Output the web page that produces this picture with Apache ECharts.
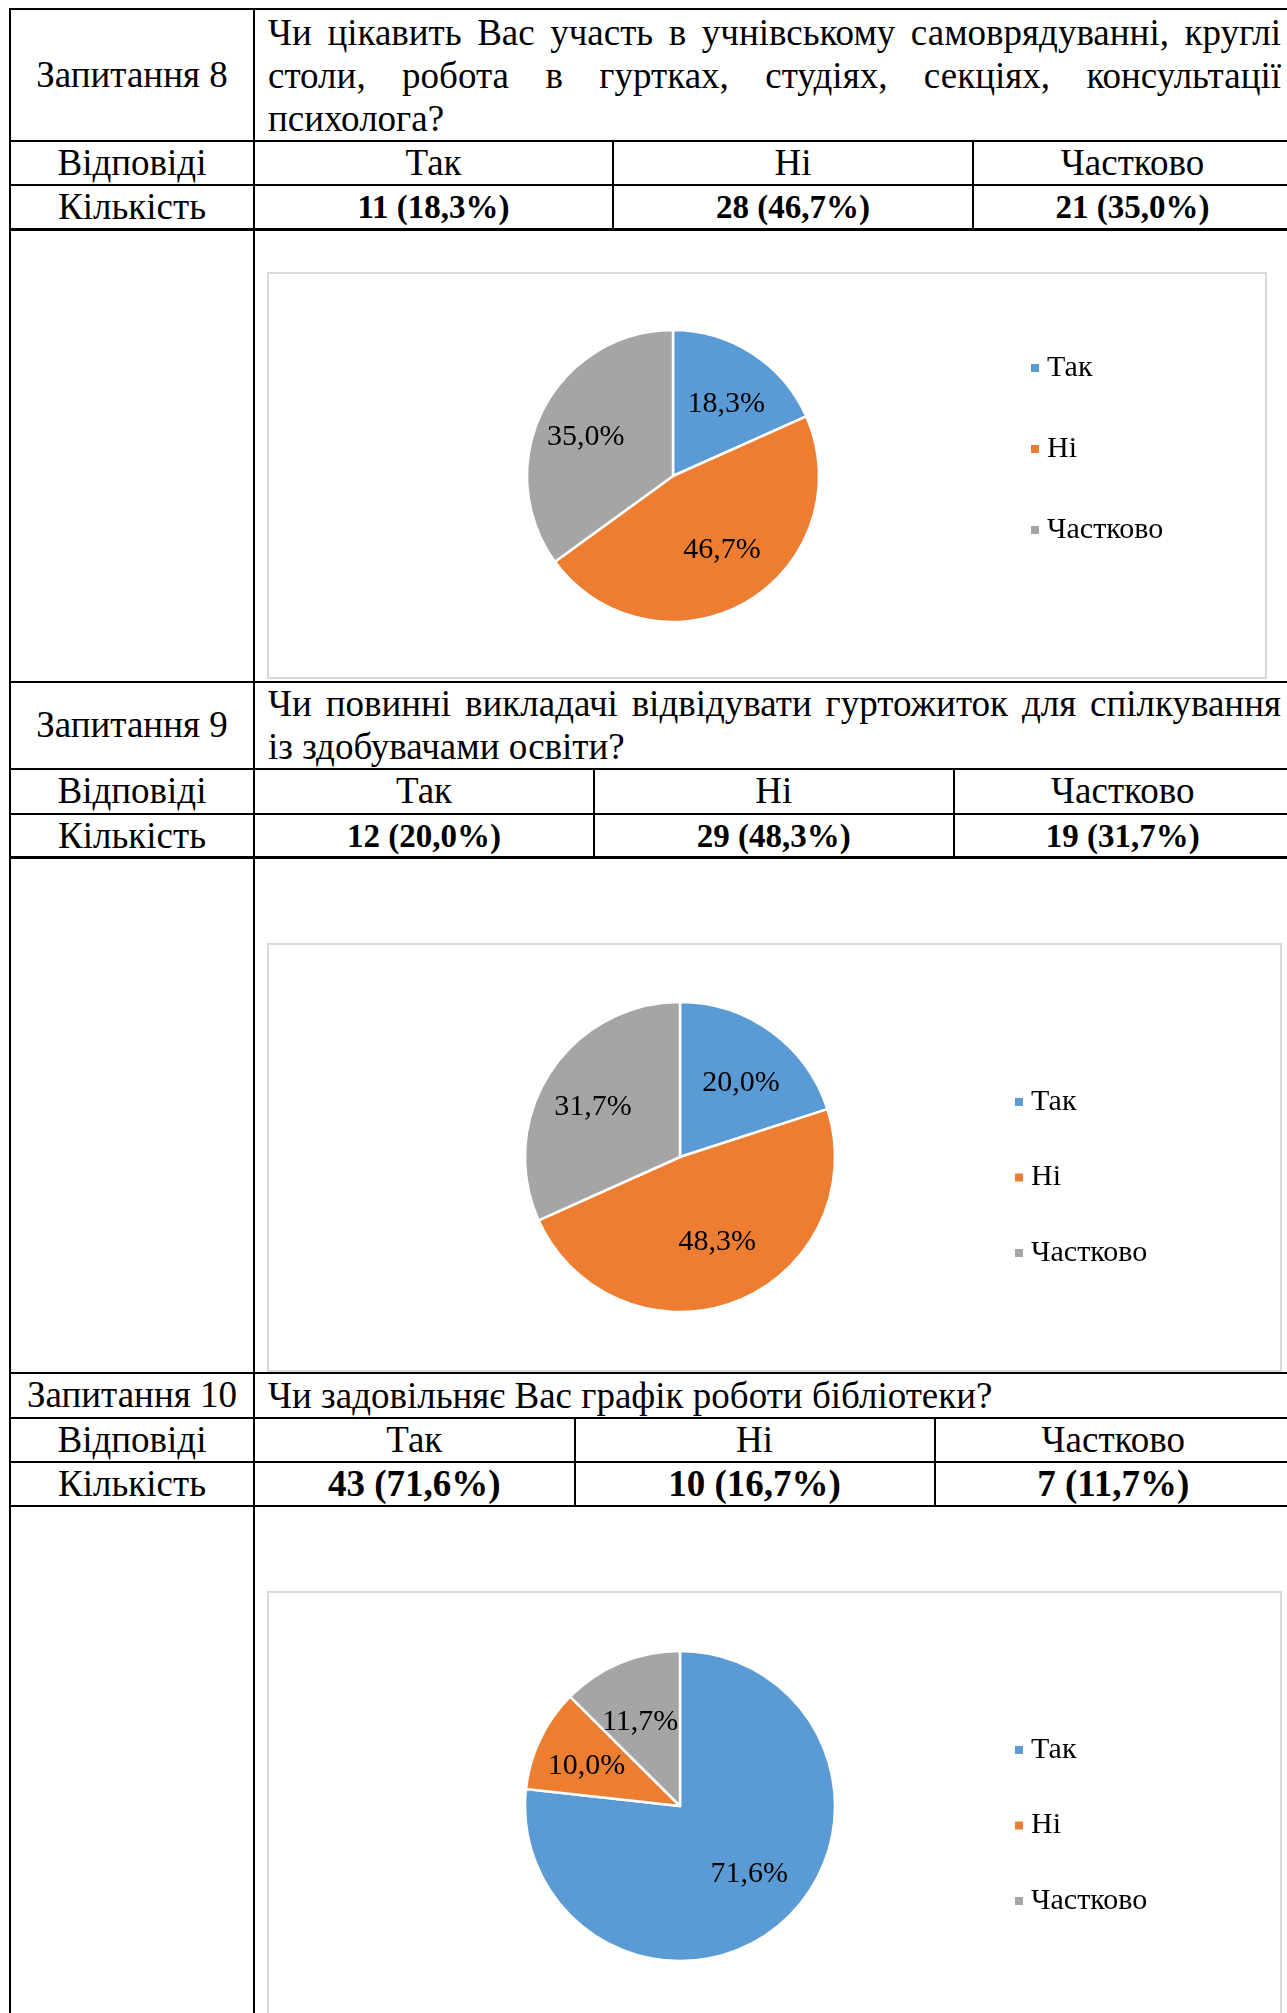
<!DOCTYPE html>
<html>
<head>
<meta charset="utf-8">
<script src="https://cdn.jsdelivr.net/npm/echarts@6/dist/echarts.min.js"></script>
<style>
  html, body { margin: 0; padding: 0; background: #fff; }
  body { width: 1287px; height: 2013px; position: relative; overflow: hidden;
         font-family: "Liberation Serif", "Times New Roman", serif; color: #000; }
  .hl, .vl { position: absolute; background: #000; }
  .cell { position: absolute; display: flex; align-items: center; justify-content: center;
          font-size: 37px; line-height: 42px; white-space: nowrap; }
  .q { position: absolute; font-size: 37px; line-height: 43px; display: flex; flex-direction: column; justify-content: center; }
  .q div { white-space: nowrap; }
  .q .just { text-align: justify; text-align-last: justify; }
  .chart { position: absolute; outline: 2px solid #d9d9d9; outline-offset: -1px; }
</style>
</head>
<body>
<script>
// дані
const categories = ['Так', 'Ні', 'Частково'];
const colors = ['#5B9BD5', '#ED7D31', '#A5A5A5'];

const q8Label = 'Запитання 8';
const q8Lines = ['Чи цікавить Вас участь в учнівському самоврядуванні, круглі',
                 'столи, робота в гуртках, студіях, секціях, консультації',
                 'психолога?'];
const q8Counts = ['11 (18,3%)', '28 (46,7%)', '21 (35,0%)'];
const q8Values = [18.3, 46.7, 35.0];

const q9Label = 'Запитання 9';
const q9Lines = ['Чи повинні викладачі відвідувати гуртожиток для спілкування',
                 'із здобувачами освіти?'];
const q9Counts = ['12 (20,0%)', '29 (48,3%)', '19 (31,7%)'];
const q9Values = [20.0, 48.3, 31.7];

const q10Label = 'Запитання 10';
const q10Lines = ['Чи задовільняє Вас графік роботи бібліотеки?'];
const q10Counts = ['43 (71,6%)', '10 (16,7%)', '7 (11,7%)'];
const q10Values = [71.6, 10.0, 11.7];

// розмітка таблиці
const FONT = '"Liberation Serif", "Times New Roman", serif';
const LEFT = 10, COL = 254, RIGHT = 1292, LW = 2;
const blocks = [
  { label: q8Label, lines: q8Lines, counts: q8Counts, values: q8Values,
    top: 9, qBottom: 141, ansBottom: 185, cntBottom: 229.5, end: 681.5,
    dividers: [613, 973], countSize: 33,
    box: { left: 268, top: 273, width: 998, height: 405 },
    pie: { cx: 405, cy: 203, r: 146 }, legend: { left: 756, top: 75, gap: 51 } },
  { label: q9Label, lines: q9Lines, counts: q9Counts, values: q9Values,
    top: 681.5, qBottom: 769, ansBottom: 813.5, cntBottom: 857.5, end: 1373,
    dividers: [594, 953.5], countSize: 33,
    box: { left: 268, top: 944, width: 1013, height: 427 },
    pie: { cx: 412, cy: 213, r: 155 }, legend: { left: 740, top: 138, gap: 45.5 } },
  { label: q10Label, lines: q10Lines, counts: q10Counts, values: q10Values,
    top: 1373, qBottom: 1417.5, ansBottom: 1462, cntBottom: 1506, end: 2100,
    dividers: [574.5, 934.5], countSize: 37,
    box: { left: 268, top: 1592, width: 1013, height: 427 },
    pie: { cx: 412, cy: 214, r: 155 }, legend: { left: 740, top: 138, gap: 45.5 } }
];

function el(cls, css, text) {
  const d = document.createElement('div');
  d.className = cls;
  Object.assign(d.style, css);
  if (text !== undefined) d.textContent = text;
  document.body.appendChild(d);
  return d;
}
function hline(y, x1, x2, w) {
  el('hl', { left: x1 + 'px', top: (y - (w || LW) / 2) + 'px', width: (x2 - x1) + 'px', height: (w || LW) + 'px' });
}
function vline(x, y1, y2) {
  el('vl', { left: (x - LW / 2) + 'px', top: y1 + 'px', width: LW + 'px', height: (y2 - y1) + 'px' });
}
function cell(x1, x2, y1, y2, text, extra) {
  el('cell', Object.assign({ left: x1 + 'px', top: y1 + 'px', width: (x2 - x1) + 'px', height: (y2 - y1) + 'px' }, extra || {}), text);
}

const fmt = p => p.value.toFixed(1).replace('.', ',') + '%';

function pieOption(b) {
  const data = categories.map((name, i) => ({ name, value: b.values[i], itemStyle: { color: colors[i] } }));
  return {
    animation: false,
    legend: {
      orient: 'vertical', left: b.legend.left, top: b.legend.top, itemGap: b.legend.gap,
      itemWidth: 10, itemHeight: 10, icon: 'rect', selectedMode: false,
      textStyle: { fontFamily: FONT, fontSize: 30, lineHeight: 30, color: '#000', padding: [0, 0, 0, 2] },
      data: categories.map((name, i) => ({ name, itemStyle: { color: colors[i] } }))
    },
    series: [
      { type: 'pie', center: [b.pie.cx, b.pie.cy], radius: [0, b.pie.r], startAngle: 90, silent: true,
        label: { show: false }, labelLine: { show: false },
        itemStyle: { borderColor: '#fff', borderWidth: 2.5 }, data },
      // кільце лише для підписів (підпис на 0.65 радіуса)
      { type: 'pie', center: [b.pie.cx, b.pie.cy], radius: [b.pie.r * 0.3, b.pie.r], startAngle: 90, silent: true,
        label: { show: true, position: 'inside', formatter: fmt, fontFamily: FONT, fontSize: 30, color: '#000' },
        labelLine: { show: false },
        // підписи трохи ближче до центру по вертикалі, як у Excel
        labelLayout: p => {
          const ly = p.labelRect.y + p.labelRect.height / 2;
          return { dy: (b.pie.cy - ly) * 0.12 };
        },
        itemStyle: { color: 'rgba(0,0,0,0)', borderWidth: 0 },
        data: data.map(d => ({ name: d.name, value: d.value })) }
    ]
  };
}

blocks.forEach(b => {
  // лінії
  hline(b.top, LEFT - 1, RIGHT);
  hline(b.qBottom, LEFT - 1, RIGHT);
  hline(b.ansBottom, LEFT - 1, RIGHT);
  hline(b.cntBottom, LEFT - 1, RIGHT, 2.5);
  vline(LEFT, b.top, b.end);
  vline(COL, b.top, b.end);
  b.dividers.forEach(x => vline(x, b.qBottom, b.cntBottom));

  // текст
  cell(LEFT, COL, b.top, b.qBottom, b.label);
  const q = el('q', { left: '268px', top: b.top + 'px', width: '1013px', height: (b.qBottom - b.top) + 'px' });
  b.lines.forEach((t, i) => {
    const d = document.createElement('div');
    d.textContent = t;
    if (i < b.lines.length - 1) d.className = 'just';
    q.appendChild(d);
  });
  cell(LEFT, COL, b.qBottom, b.ansBottom, 'Відповіді');
  cell(LEFT, COL, b.ansBottom, b.cntBottom, 'Кількість');
  const xs = [COL].concat(b.dividers, [RIGHT]);
  categories.forEach((c, i) => {
    cell(xs[i], xs[i + 1], b.qBottom, b.ansBottom, c);
    cell(xs[i], xs[i + 1], b.ansBottom, b.cntBottom, b.counts[i], { fontWeight: 'bold', fontSize: b.countSize + 'px' });
  });

  // діаграма
  const box = el('chart', { left: b.box.left + 'px', top: b.box.top + 'px', width: b.box.width + 'px', height: b.box.height + 'px' });
  const chart = echarts.init(box, null, { renderer: 'canvas' });
  chart.setOption(pieOption(b));
});
</script>
</body>
</html>
